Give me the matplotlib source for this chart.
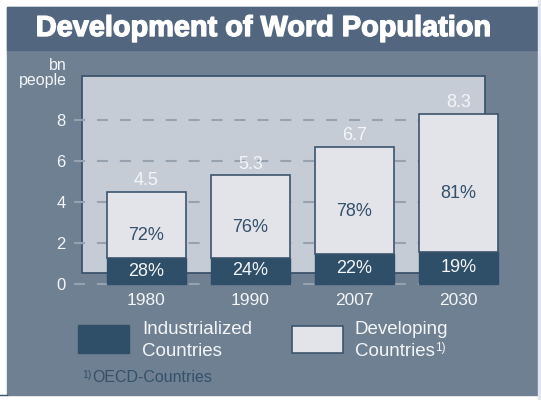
import numpy as np
import matplotlib.pyplot as plt
import matplotlib.patheffects as pe
from matplotlib.patches import Rectangle

plt.rcParams["font.family"] = ["Liberation Sans", "DejaVu Sans"]

years = ["1980", "1990", "2007", "2030"]
totals = [4.5, 5.3, 6.7, 8.3]
industrial_pct = [28, 24, 22, 19]
developing_pct = [72, 76, 78, 81]
yticks = [0, 2, 4, 6, 8]

BANNER = "#52677f"
BODY = "#6f8092"
PANEL = "#c5ccd6"
LIGHT = "#e2e4ea"
DARK = "#2e4f67"
EDGE = "#3c556d"
DARK_TXT = "#34506a"
WHITE_TXT = "#f4f5f8"
GRID = "#97a2b1"

W, H = 541, 400


def fx(px):
    return px / W


def fy(py):
    return 1 - py / H


fig = plt.figure(figsize=(W / 100, H / 100), dpi=100, facecolor="white")

# background frame and title banner
fig.patches.append(Rectangle((fx(7), fy(395)), fx(538) - fx(7), fy(7) - fy(395),
                             transform=fig.transFigure, color=BODY, zorder=0))
fig.patches.append(Rectangle((fx(7), fy(50)), fx(538) - fx(7), fy(7) - fy(50),
                             transform=fig.transFigure, color=BANNER, zorder=0))
fig.patches.append(Rectangle((fx(538), 0), 1 - fx(538), 1,
                             transform=fig.transFigure, color="#e3e5ee", zorder=0))
fig.add_artist(plt.Line2D([0, fx(7)], [fy(395), fy(395)], color=EDGE, lw=1))

fig.text(fx(263), fy(28), "Development of Word Population", color="white",
         fontsize=20.8, fontweight="bold", ha="center", va="center",
         path_effects=[pe.withStroke(linewidth=1.0, foreground="white")])

# axes: 0 at px 284, 20.5 px per unit
ppu = 20.5
y_lo, y_hi = -0.3, 10.15
ax_bottom_px = 284 + (-y_lo) * ppu
ax_top_px = 284 - y_hi * ppu
ax = fig.add_axes([fx(74), fy(ax_bottom_px), fx(503) - fx(74),
                   fy(ax_top_px) - fy(ax_bottom_px)])
ax.set_zorder(2)
ax.set_facecolor("none")
x = np.arange(len(years))
ax.set_xlim((74 - 146.5) / 104, (503 - 146.5) / 104)
ax.set_ylim(y_lo, y_hi)
for s in ax.spines.values():
    s.set_visible(False)

# light panel behind the bars
ax.add_patch(Rectangle(((82 - 146.5) / 104, 0.54), (485 - 82) / 104, y_hi - 0.54,
                       facecolor=PANEL, edgecolor=EDGE, lw=1.3, zorder=0.2,
                       clip_on=False))

ax.set_axisbelow(True)
ax.set_yticks(yticks)
ax.set_yticklabels([str(t) for t in yticks], fontsize=12, color=WHITE_TXT)
ax.tick_params(axis="y", length=0, pad=6)
ax.set_xticks([])
ax.grid(axis="y", color=GRID, lw=1.5, linestyle=(0, (5.3, 5.7)))

totals_a = np.array(totals)
ind = totals_a * np.array(industrial_pct) / 100
dev = totals_a - ind

ax.bar(x, ind, width=0.76, color=DARK, edgecolor=DARK, lw=1, zorder=2)
ax.bar(x, dev, bottom=ind, width=0.76, color=LIGHT, edgecolor=EDGE, lw=1.2,
       zorder=2)

for i in range(len(years)):
    ax.text(x[i], ind[i] / 2, f"{industrial_pct[i]}%", color=WHITE_TXT,
            fontsize=13, ha="center", va="center", zorder=3)
    ax.text(x[i], ind[i] + dev[i] / 2 - 0.53, f"{developing_pct[i]}%",
            color=DARK_TXT, fontsize=13, ha="center", va="center", zorder=3)
    ax.text(x[i], totals[i] + 0.55, f"{totals[i]:.1f}", color=WHITE_TXT,
            fontsize=13, ha="center", va="center", zorder=3)
    ax.text(x[i], -0.8, years[i], color=WHITE_TXT, fontsize=12.5,
            ha="center", va="center")

fig.text(fx(67), fy(65), "bn", color=WHITE_TXT, fontsize=11.5, ha="right",
         va="center")
fig.text(fx(67), fy(81), "people", color=WHITE_TXT, fontsize=11.5, ha="right",
         va="center")

# legend
fig.patches.append(Rectangle((fx(78), fy(353)), fx(129) - fx(78), fy(325) - fy(353),
                             transform=fig.transFigure, facecolor=DARK,
                             edgecolor=DARK, lw=1))
fig.patches.append(Rectangle((fx(292), fy(353)), fx(343) - fx(292), fy(326) - fy(353),
                             transform=fig.transFigure, facecolor=LIGHT,
                             edgecolor=EDGE, lw=1.2))
fig.text(fx(142), fy(330), "Industrialized", color=WHITE_TXT, fontsize=13.5,
         va="center")
fig.text(fx(142), fy(351), "Countries", color=WHITE_TXT, fontsize=13.5,
         va="center")
fig.text(fx(355), fy(330), "Developing", color=WHITE_TXT, fontsize=13.5,
         va="center")
t = fig.text(fx(355), fy(351), "Countries", color=WHITE_TXT, fontsize=13.5,
             va="center")
ax.annotate("1)", xy=(1, 0.68), xycoords=t, xytext=(0.3, 0),
            textcoords="offset points", fontsize=8.5, color=WHITE_TXT,
            ha="left", va="center")

f = fig.text(fx(92), fy(378), "OECD-Countries", color=DARK_TXT, fontsize=11.5,
             va="center")
ax.annotate("1)", xy=(0, 0.68), xycoords=f, xytext=(-0.2, 0),
            textcoords="offset points", fontsize=7.5, color=DARK_TXT,
            ha="right", va="center")

fig.savefig("out.png", dpi=100, facecolor="white")
